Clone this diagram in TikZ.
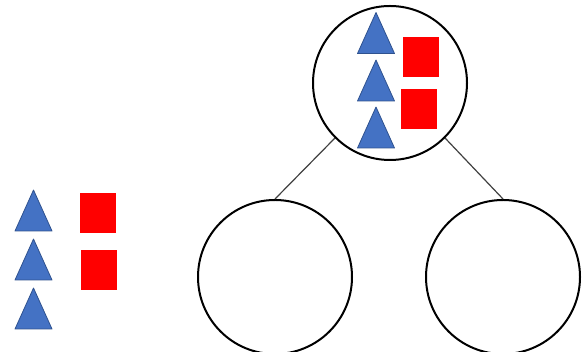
\documentclass[tikz,border=0pt]{standalone}
\usetikzlibrary{positioning}
\definecolor{triblue}{HTML}{4472C4}
\definecolor{triedge}{HTML}{2F528F}
\definecolor{boxred}{HTML}{FF0000}
\definecolor{linegray}{HTML}{404040}

\begin{document}
\begin{tikzpicture}[
  x=1pt, y=1pt,
  bag/.style={circle, draw, line width=2pt, minimum size=154pt, inner sep=0pt},
  branch/.style={draw=linegray, line width=1.2pt},
  redbox/.style={rectangle, fill=boxred, minimum width=36pt, minimum height=40pt, inner sep=0pt},
  tri/.pic={\filldraw[fill=triblue, draw=triedge, line width=0.8pt, line join=round]
    (-18.5,-20.5) -- (18.5,-20.5) -- (0,20.5) -- cycle;}
]
\useasboundingbox (0,0) rectangle (586,352);

% Tree of bags
\node[bag] (root) at (390,269) {};
\node[bag] (leftbag) at (275,75) {};
\node[bag] (rightbag) at (503,75) {};

% Branches
\draw[branch] (root.225) -- (leftbag.north);
\draw[branch] (root.-45) -- (rightbag.north);

% Items in the root bag
\pic at (376,319) {tri};
\pic at (376,271.5) {tri};
\pic at (376,224.5) {tri};
\node[redbox] (rootsq1) at (420.5,295) {};
\node[redbox] (rootsq2) at (419,243) {};

% Loose items
\pic at (33.5,141.5) {tri};
\pic at (33.5,92.5) {tri};
\pic at (33.5,43.5) {tri};
\node[redbox] (loosesq1) at (97.5,139) {};
\node[redbox] (loosesq2) at (99,82) {};

\end{tikzpicture}
\end{document}
